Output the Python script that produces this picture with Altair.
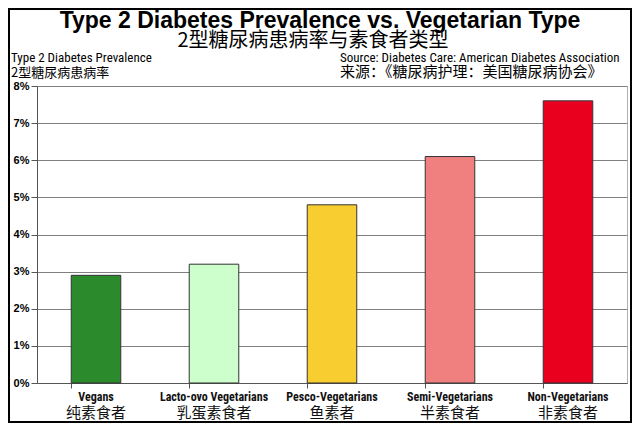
import altair as alt
import pandas as pd

categories_en = ["Vegans", "Lacto-ovo Vegetarians", "Pesco-Vegetarians", "Semi-Vegetarians", "Non-Vegetarians"]
categories_zh = ["纯素食者", "乳蛋素食者", "鱼素者", "半素食者", "非素食者"]
prevalence = [2.9, 3.2, 4.8, 6.1, 7.6]
bar_colors = ["#2b8a2b", "#ccffcc", "#f7cd2f", "#f08080", "#e8001e"]

title_en = "Type 2 Diabetes Prevalence vs. Vegetarian Type"
title_zh = "2型糖尿病患病率与素食者类型"
ytitle_en = "Type 2 Diabetes Prevalence"
ytitle_zh = "2型糖尿病患病率"
source_en = "Source: Diabetes Care: American Diabetes Association"
source_zh = "来源：《糖尿病护理：美国糖尿病协会》"

EN = "Liberation Sans Narrow, Roboto Condensed, Liberation Sans, Arial"
ZH = "Noto Sans CJK SC"

df = pd.DataFrame({"en": categories_en, "zh": categories_zh, "v": prevalence, "c": bar_colors})

xenc = alt.X("en:N", sort=categories_en,
             scale=alt.Scale(paddingInner=0.58, paddingOuter=0.29),
             axis=alt.Axis(title=None, labels=False, ticks=True, tickSize=5,
                           bandPosition=0, domainColor="#555555", tickColor="#555555",
                           grid=False))

bars = alt.Chart(df).mark_bar(stroke="#333333", strokeWidth=1).encode(
    x=xenc,
    y=alt.Y("v:Q", scale=alt.Scale(domain=[0, 8], nice=False),
            axis=alt.Axis(title=None, values=[0, 1, 2, 3, 4, 5, 6, 7, 8],
                          labelExpr="datum.value + '%'", labelFont="Liberation Sans",
                          labelFontSize=11, labelFontWeight="bold", labelColor="#000000",
                          labelPadding=2, tickSize=6, tickColor="#555555",
                          domainColor="#555555", grid=True, gridColor="#808080",
                          gridWidth=1)),
    color=alt.Color("c:N", scale=None),
)

lab_en = alt.Chart(df).mark_text(font=EN, fontSize=12, fontWeight="bold",
                                 baseline="alphabetic", color="#111111").encode(
    x=alt.X("en:N", sort=categories_en), y=alt.value(315), text="en:N")
lab_zh = alt.Chart(df).mark_text(font=ZH, fontSize=15, baseline="alphabetic",
                                 color="#111111").encode(
    x=alt.X("en:N", sort=categories_en), y=alt.value(332), text="zh:N")

one = pd.DataFrame({"a": [0]})

def note(txt, x, y, size, font, weight="normal", align="left"):
    return alt.Chart(one).mark_text(text=txt, font=font, fontSize=size, fontWeight=weight,
                                    align=align, baseline="alphabetic", color="#000000").encode(
        x=alt.value(x), y=alt.value(y))

t1 = note(title_en, 283, -58, 23, "Liberation Sans", "bold", "center")
t2 = note(title_zh, 276, -39, 20, ZH, "normal", "center")
y1 = note(ytitle_en, -26, -24, 13, EN)
y2 = note(ytitle_zh, -26, -9, 13, ZH)
s1 = note(source_en, 303, -24, 13, EN)
s2 = note(source_zh, 303, -9, 15, ZH)

frame = alt.Chart(one).mark_rect(filled=False, stroke="#000000", strokeWidth=2).encode(
    x=alt.value(-28), x2=alt.value(594), y=alt.value(-77), y2=alt.value(336))

chart = alt.layer(bars, lab_en, lab_zh, t1, t2, y1, y2, s1, s2, frame).properties(
    width=590, height=297,
    autosize=alt.AutoSizeParams(type="none"),
    padding={"left": 29, "top": 78, "right": 5, "bottom": 40},
    background="white",
).configure_view(stroke="#b0b0b0")

chart.save("out.html", embed_options={"renderer": "svg", "actions": False})
